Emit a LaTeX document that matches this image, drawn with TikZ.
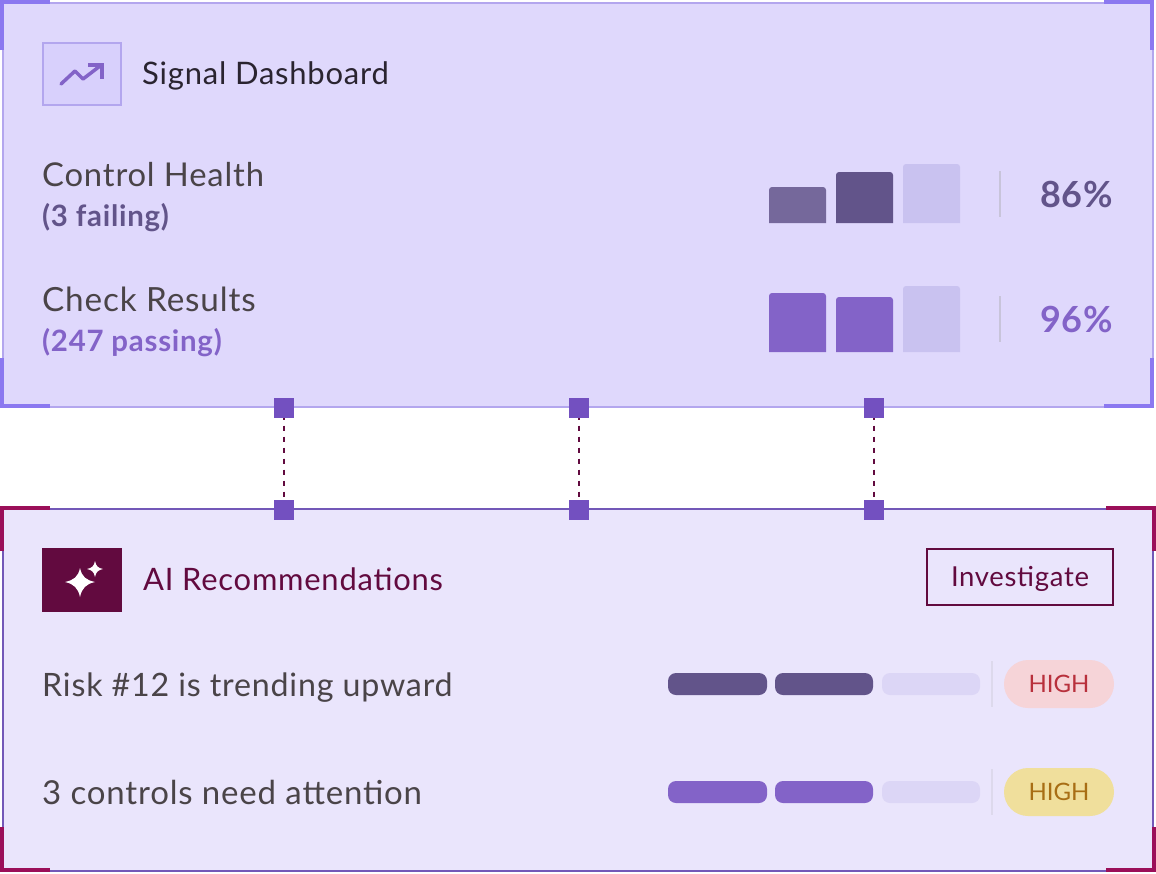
\documentclass[tikz,border=0pt]{standalone}
\usepackage{fontspec}
\setmainfont[LetterSpace=2.5]{Lato}
\usepackage{xcolor}
\definecolor{topfill}{HTML}{DFD8FC}
\definecolor{topline}{HTML}{B3A6EE}
\definecolor{topcorner}{HTML}{8B78F0}
\definecolor{iconfill}{HTML}{D8D0FC}
\definecolor{lowfill}{HTML}{EAE5FC}
\definecolor{lowline}{HTML}{7358B8}
\definecolor{lowcorner}{HTML}{9B0F59}
\definecolor{handle}{HTML}{7350C0}
\definecolor{maroon}{HTML}{620A3F}
\definecolor{inktext}{HTML}{2A2430}
\definecolor{greytext}{HTML}{4A4448}
\definecolor{dullviolet}{HTML}{62548A}
\definecolor{violet}{HTML}{8363C8}
\definecolor{paleviolet}{HTML}{C9C2F0}
\definecolor{palepill}{HTML}{DCD6F6}
\definecolor{septop}{HTML}{C8C4DA}
\definecolor{seplow}{HTML}{DDD9EC}
\definecolor{highred}{HTML}{F6D4D8}
\definecolor{highredtext}{HTML}{B8303C}
\definecolor{highyellow}{HTML}{F0DF9C}
\definecolor{highyellowtext}{HTML}{A86E14}
\tikzset{
  lbl/.style={anchor=base west,inner sep=0pt,font=\fontsize{#1}{#1}\selectfont},
  boldlbl/.style={anchor=base west,inner sep=0pt,font=\fontsize{#1}{#1}\selectfont\bfseries},
  handlebox/.style={fill=handle,minimum size=20pt,inner sep=0pt,outer sep=0pt},
  link/.style={maroon,line width=2pt,dash pattern=on 5.5pt off 5.5pt,dash phase=3.5pt},
  pill/.style={rounded corners=8pt},
  bluecorner/.style={topcorner,line width=4pt},
  redcorner/.style={lowcorner,line width=4pt},
  badge/.style={rounded corners=24pt,minimum width=110pt,text height=32pt,text depth=16pt,inner sep=0pt,font=\fontsize{24}{24}\selectfont\addfontfeature{LetterSpace=0}},
}
\begin{document}
\begin{tikzpicture}[x=1pt,y=-1pt]
\useasboundingbox (0,0) rectangle (1156,873);
% top panel
\draw [topline,fill=topfill,line width=2pt] (3,3) rectangle (1153,407);
\draw [bluecorner] (2,50) -- (2,2) -- (50,2);
\draw [bluecorner] (1104,2) -- (1152,2) -- (1152,50);
\draw [bluecorner] (2,358) -- (2,406) -- (50,406);
\draw [bluecorner] (1104,406) -- (1152,406) -- (1152,358);
\draw [topline,fill=iconfill,line width=2pt] (43,43) rectangle (121,105);
\draw [violet,line width=3.5pt,line cap=round,line join=round] (61,84) -- (75,71) -- (83,79) -- (100,66);
\draw [violet,line width=3.5pt,line join=miter] (88,65) -- (102,65) -- (102,79);
\node [lbl=31,inktext] (title1) at (142,84) {Signal Dashboard};
\node [lbl=32.8,greytext] (health) at (42,186) {Control Health};
\node [boldlbl=29.4,dullviolet] (failing) at (42,226) {(3 failing)};
\node [lbl=33.3,greytext] (results) at (42,311) {Check Results};
\node [boldlbl=29.4,violet] (passing) at (42,351) {(247 passing)};
% bars
\fill [color=dullviolet!85!topfill,rounded corners=3pt] (769,223) [sharp corners] -- (769,190) [rounded corners=3pt] -- (769,187) -- (826,187) [sharp corners] -- (826,223) -- cycle;
\fill [dullviolet,rounded corners=3pt] (836,223) [sharp corners] -- (836,175) [rounded corners=3pt] -- (836,172) -- (893,172) [sharp corners] -- (893,223) -- cycle;
\fill [paleviolet,rounded corners=3pt] (903,223) [sharp corners] -- (903,167) [rounded corners=3pt] -- (903,164) -- (960,164) [sharp corners] -- (960,223) -- cycle;
\fill [violet,rounded corners=3pt] (769,352) [sharp corners] -- (769,296) [rounded corners=3pt] -- (769,293) -- (826,293) [sharp corners] -- (826,352) -- cycle;
\fill [violet,rounded corners=3pt] (836,352) [sharp corners] -- (836,300) [rounded corners=3pt] -- (836,297) -- (893,297) [sharp corners] -- (893,352) -- cycle;
\fill [paleviolet,rounded corners=3pt] (903,352) [sharp corners] -- (903,289) [rounded corners=3pt] -- (903,286) -- (960,286) [sharp corners] -- (960,352) -- cycle;
\draw [septop,line width=2pt] (1000,171) -- (1000,217);
\draw [septop,line width=2pt] (1000,296) -- (1000,342);
\node [boldlbl=36,dullviolet] (pct1) at (1040,207) {86\%};
\node [boldlbl=36,violet] (pct2) at (1040,332) {96\%};
% lower panel
\draw [lowline,fill=lowfill,line width=2pt] (3,509) rectangle (1153,871);
\draw [redcorner] (2,551) -- (2,508) -- (50,508);
\draw [redcorner] (1106,508) -- (1154,508) -- (1154,551);
\draw [redcorner] (2,827) -- (2,870) -- (50,870);
\draw [redcorner] (1106,870) -- (1154,870) -- (1154,827);
\fill [maroon] (42,548) rectangle (122,612);
% sparkles
\fill [white] (80,568) .. controls (82,577) and (86,580) .. (95,582) .. controls (86,584) and (82,588) .. (80,597) .. controls (78,588) and (74,584) .. (65,582) .. controls (74,580) and (78,577) .. (80,568) -- cycle;
\fill [white] (95,561) .. controls (96,566) and (98,568) .. (103,569) .. controls (98,570) and (96,572) .. (95,577) .. controls (94,572) and (92,570) .. (87,569) .. controls (92,568) and (94,566) .. (95,561) -- cycle;
\node [lbl=30.9,maroon] (title2) at (143,590) {AI Recommendations};
\node [draw=maroon,line width=2pt,inner sep=0pt,minimum width=186pt,text height=37pt,text depth=19pt,font=\fontsize{27.5}{27.5}\selectfont,text=maroon] (investigate) at (1020,577) {Investigate};
\node [lbl=32.2,greytext] (risk) at (42,696) {Risk \#12 is trending upward};
\node [lbl=33,greytext] (attention) at (42,804) {3 controls need attention};
% pills
\fill [dullviolet,pill] (668,673) rectangle (767,695);
\fill [dullviolet,pill] (775,673) rectangle (873,695);
\fill [palepill,pill] (882,673) rectangle (980,695);
\fill [violet,pill] (668,781) rectangle (767,803);
\fill [violet,pill] (775,781) rectangle (873,803);
\fill [palepill,pill] (882,781) rectangle (980,803);
\draw [seplow,line width=2pt] (992,661) -- (992,707);
\draw [seplow,line width=2pt] (992,769) -- (992,815);
\node [badge,fill=highred,text=highredtext] (high1) at (1059,684) {HIGH};
\node [badge,fill=highyellow,text=highyellowtext] (high2) at (1059,792) {HIGH};
% handles
\foreach \hx/\hname in {284/a,579/b,874/c} {
  \node [handlebox] (up\hname) at (\hx,408) {};
  \node [handlebox] (down\hname) at (\hx,510) {};
  \draw [link] (up\hname) -- (down\hname);
}
\end{tikzpicture}
\end{document}
